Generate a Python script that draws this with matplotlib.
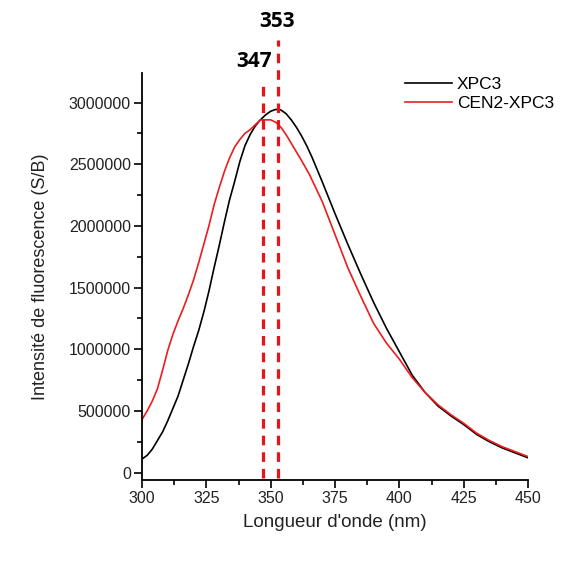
import matplotlib
matplotlib.use("Agg")
import matplotlib.pyplot as plt
from matplotlib.ticker import MultipleLocator, FuncFormatter

plt.rcParams['font.family'] = ['Liberation Sans', 'DejaVu Sans']

# wavelengths (nm) and intensities (millions)
wl_xpc3 = [300, 302, 304, 306, 308, 310, 312, 314, 316, 318, 320, 322, 324, 326, 328,
           330, 332, 334, 336, 338, 340, 342, 344, 346, 348, 350, 352, 354, 356, 358,
           360, 362, 364, 366, 368, 370, 375, 380, 385, 390, 395, 400, 405, 410, 415,
           420, 425, 430, 435, 440, 445, 450]
int_xpc3 = [0.11, 0.14, 0.19, 0.26, 0.33, 0.42, 0.52, 0.62, 0.75, 0.88, 1.02, 1.15, 1.30,
            1.47, 1.66, 1.84, 2.03, 2.21, 2.36, 2.52, 2.65, 2.74, 2.81, 2.86, 2.90, 2.93,
            2.945, 2.94, 2.91, 2.86, 2.80, 2.73, 2.65, 2.56, 2.46, 2.36, 2.10, 1.85, 1.61,
            1.38, 1.17, 0.98, 0.79, 0.65, 0.54, 0.46, 0.39, 0.31, 0.25, 0.20, 0.16, 0.12]

wl_cen2 = [300, 302, 304, 306, 308, 310, 312, 314, 316, 318, 320, 322, 324, 326, 328,
           330, 332, 334, 336, 338, 340, 342, 344, 346, 348, 350, 352, 354, 356, 358,
           360, 362, 365, 370, 375, 380, 385, 390, 395, 400, 405, 410, 415, 420, 425,
           430, 435, 440, 445, 450]
int_cen2 = [0.43, 0.50, 0.58, 0.68, 0.83, 0.99, 1.12, 1.23, 1.33, 1.44, 1.56, 1.70, 1.85,
            2.00, 2.17, 2.31, 2.44, 2.55, 2.64, 2.70, 2.75, 2.78, 2.82, 2.86, 2.86, 2.86,
            2.84, 2.80, 2.74, 2.67, 2.60, 2.53, 2.42, 2.20, 1.93, 1.66, 1.43, 1.21, 1.05,
            0.92, 0.77, 0.65, 0.55, 0.47, 0.40, 0.32, 0.26, 0.21, 0.17, 0.13]

peaks = [347, 353]
peak_labels = ["347", "353"]
labels = ["XPC3", "CEN2-XPC3"]

fig = plt.figure(figsize=(5.63, 5.66), dpi=100)
ax = fig.add_axes([142/563, 1-480/566, 386/563, 407/566])

ax.plot(wl_xpc3, [v*1e6 for v in int_xpc3], color='black', lw=1.2, label=labels[0])
ax.plot(wl_cen2, [v*1e6 for v in int_cen2], color='#ee1c1c', lw=1.2, label=labels[1])

tops = [3.17e6, 3.51e6]
text_y = [3.33e6, 3.66e6]
text_x = [343.5, 352.5]
for p, t, lab, tx, ty in zip(peaks, tops, peak_labels, text_x, text_y):
    ax.plot([p, p], [-0.04e6, t], color='#e8141c', lw=2.3, ls=(0, (3, 2.2)), clip_on=False)
    ax.text(tx, ty, lab, ha='center', va='center', fontsize=15, fontweight='bold',
            family=['Open Sans', 'DejaVu Sans'], clip_on=False)

ax.set_xlim(300, 450)
ax.set_ylim(-60000, 3240000)
ax.xaxis.set_major_locator(MultipleLocator(25))
ax.xaxis.set_minor_locator(MultipleLocator(12.5))
ax.yaxis.set_major_locator(MultipleLocator(500000))
ax.yaxis.set_minor_locator(MultipleLocator(250000))
ax.yaxis.set_major_formatter(FuncFormatter(lambda v, p: f"{int(round(v))}"))
ax.xaxis.set_major_formatter(FuncFormatter(lambda v, p: f"{int(round(v))}"))

for s in ['top', 'right']:
    ax.spines[s].set_visible(False)
for s in ['left', 'bottom']:
    ax.spines[s].set_linewidth(1.3)
ax.tick_params(which='major', direction='out', length=6, width=1.2, labelsize=11.5,
               labelcolor='#222222', pad=2)
ax.tick_params(which='minor', direction='out', length=3.5, width=1.2)

ax.set_xlabel("Longueur d'onde (nm)", fontsize=13.5, color='#222222', labelpad=6)
ax.set_ylabel("Intensité de fluorescence (S/B)", fontsize=13, color='#222222', labelpad=14)

leg = ax.legend(loc='upper left', bbox_to_anchor=(405/563, 1-77/566),
                bbox_transform=fig.transFigure, frameon=False, fontsize=12.5,
                borderpad=0, borderaxespad=0, handlelength=2.7, handletextpad=0.3,
                labelspacing=0.2)

fig.savefig("out.png", dpi=100)
